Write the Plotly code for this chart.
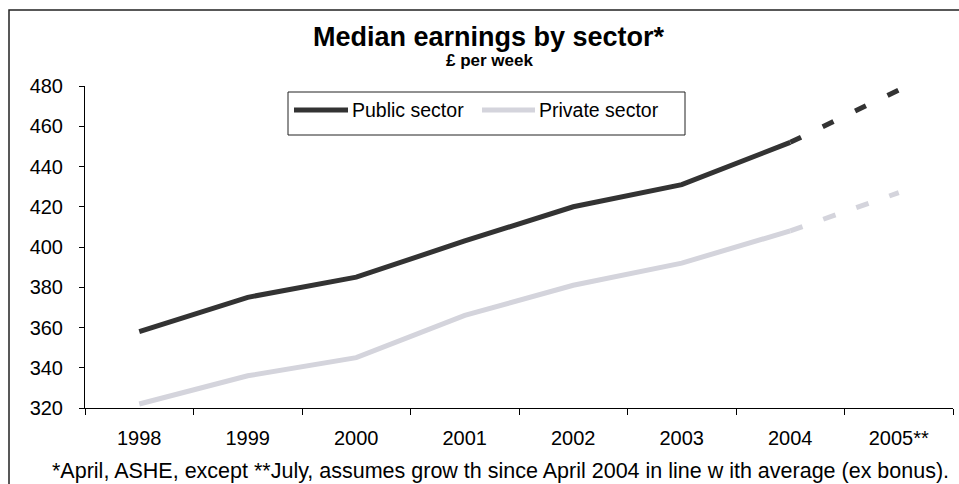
import plotly.graph_objects as go

# ---- data ----
years = ["1998", "1999", "2000", "2001", "2002", "2003", "2004", "2005**"]
public_sector = [358, 375, 385, 403, 420, 431, 452, 478]
private_sector = [322, 336, 345, 366, 381, 392, 408, 427]
series_names = ["Public sector", "Private sector"]
title_text = "Median earnings by sector*"
subtitle_text = "£ per week"
footnote_text = ("*April, ASHE, except **July, assumes grow th since April 2004 "
                 "in line w ith average (ex bonus).")

# ---- styling ----
W, H = 959, 484
ML, MR, MT, MB = 85, 6, 86, 76
PW, PH = W - ML - MR, H - MT - MB
FONT = "Liberation Sans, Arial, sans-serif"
PUB_C = "#333333"
PRI_C = "#d4d4dc"
LW = 5


def px(x):
    return (x - ML) / PW


def py(y):
    return (H - MB - y) / PH


fig = go.Figure()

n_hist = len(years) - 1  # last point is the projection
fig.add_trace(go.Scatter(x=years[:n_hist], y=public_sector[:n_hist], mode="lines",
                         line=dict(color=PUB_C, width=LW), name=series_names[0],
                         showlegend=False))
fig.add_trace(go.Scatter(x=years[n_hist - 1:], y=public_sector[n_hist - 1:], mode="lines",
                         line=dict(color=PUB_C, width=LW, dash="12px,24px"),
                         showlegend=False))
fig.add_trace(go.Scatter(x=years[:n_hist], y=private_sector[:n_hist], mode="lines",
                         line=dict(color=PRI_C, width=LW), name=series_names[1],
                         showlegend=False))
fig.add_trace(go.Scatter(x=years[n_hist - 1:], y=private_sector[n_hist - 1:], mode="lines",
                         line=dict(color=PRI_C, width=LW, dash="13px,22px"),
                         showlegend=False))

shapes = [
    # outer chart border (cropped at right/bottom)
    dict(type="rect", xref="paper", yref="paper", x0=px(9), x1=px(975), y0=py(500), y1=py(10),
         line=dict(color="#222222", width=1.5), fillcolor="rgba(0,0,0,0)", layer="above"),
    # legend box
    dict(type="rect", xref="paper", yref="paper", x0=px(288), x1=px(685), y0=py(135), y1=py(92),
         line=dict(color="#222222", width=1), fillcolor="white", layer="above"),
    dict(type="line", xref="paper", yref="paper", x0=px(294), x1=px(348), y0=py(110), y1=py(110),
         line=dict(color=PUB_C, width=LW), layer="above"),
    dict(type="line", xref="paper", yref="paper", x0=px(482), x1=px(535), y0=py(110), y1=py(110),
         line=dict(color=PRI_C, width=LW), layer="above"),
]

annotations = [
    dict(text="<b>" + title_text + "</b>", x=px(489), y=py(37), xref="paper", yref="paper",
         xanchor="center", yanchor="middle", showarrow=False,
         font=dict(family=FONT, size=27, color="black")),
    dict(text="<b>" + subtitle_text + "</b>", x=px(489), y=py(61), xref="paper", yref="paper",
         xanchor="center", yanchor="middle", showarrow=False,
         font=dict(family=FONT, size=17, color="black")),
    dict(text=series_names[0], x=px(350), y=py(110), xref="paper", yref="paper",
         xanchor="left", yanchor="middle", showarrow=False,
         font=dict(family=FONT, size=19.5, color="black")),
    dict(text=series_names[1], x=px(537), y=py(110), xref="paper", yref="paper",
         xanchor="left", yanchor="middle", showarrow=False,
         font=dict(family=FONT, size=19.5, color="black")),
    dict(text=footnote_text, x=px(500), y=py(471), xref="paper", yref="paper",
         xanchor="center", yanchor="middle", showarrow=False,
         font=dict(family=FONT, size=21.5, color="black")),
]

fig.update_layout(
    width=W, height=H, autosize=False,
    margin=dict(l=ML, r=MR, t=MT, b=MB, pad=0),
    paper_bgcolor="white", plot_bgcolor="white",
    font=dict(family=FONT, color="black"),
    showlegend=False,
    shapes=shapes,
    annotations=annotations,
    xaxis=dict(type="category", range=[-0.5, len(years) - 0.5], tickson="boundaries",
               ticks="outside", ticklen=6, tickcolor="black", showline=True,
               linecolor="black", linewidth=1, showgrid=False, zeroline=False,
               tickfont=dict(family=FONT, size=20, color="black"), ticklabelstandoff=12),
    yaxis=dict(range=[320, 480], dtick=20, ticks="outside", ticklen=5, tickcolor="black",
               showline=True, linecolor="black", linewidth=1, showgrid=False, zeroline=False,
               tickfont=dict(family=FONT, size=20, color="black"), ticklabelstandoff=12),
)

fig.write_html("out.html")
